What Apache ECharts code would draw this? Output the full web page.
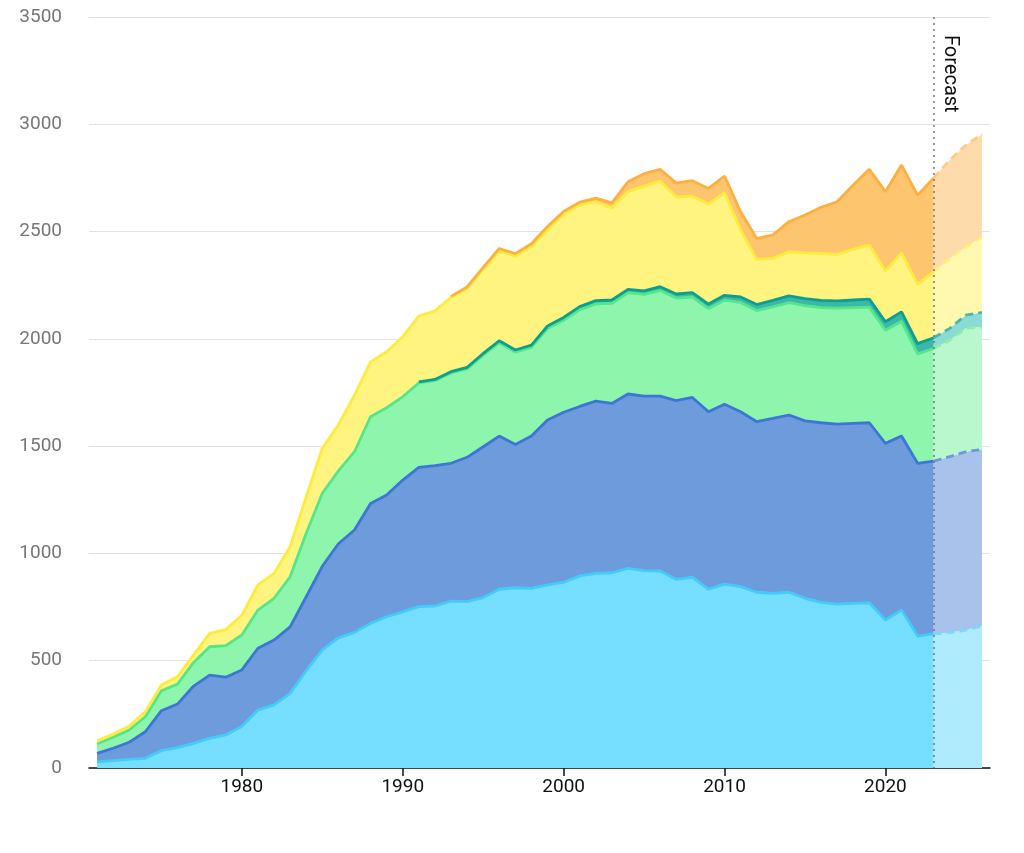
<!DOCTYPE html>
<html>
<head>
<meta charset="utf-8">
<script src="https://cdn.jsdelivr.net/npm/echarts@6/dist/echarts.min.js"></script>
<style>
  html, body { margin: 0; padding: 0; background: #fff; }
  #chart { width: 1024px; height: 853px; }
</style>
</head>
<body>
<div id="chart"></div>
<script>
// years 1971 - 2026, forecast from 2023
var years = [
  1971, 1972, 1973, 1974, 1975, 1976, 1977, 1978, 1979, 1980,
  1981, 1982, 1983, 1984, 1985, 1986, 1987, 1988, 1989, 1990,
  1991, 1992, 1993, 1994, 1995, 1996, 1997, 1998, 1999, 2000,
  2001, 2002, 2003, 2004, 2005, 2006, 2007, 2008, 2009, 2010,
  2011, 2012, 2013, 2014, 2015, 2016, 2017, 2018, 2019, 2020,
  2021, 2022, 2023, 2024, 2025, 2026
];
var forecastFrom = 2023;

var cyanVals = [
  29, 34, 40, 45, 81, 95, 115, 138, 154, 193,
  270, 294, 348, 453, 550, 606, 632, 674, 705, 728,
  752, 755, 778, 775, 794, 833, 840, 837, 853, 865,
  895, 907, 910, 930, 920, 918, 879, 889, 833, 857,
  845, 819, 814, 819, 791, 772, 764, 767, 770, 690,
  736, 615, 625, 631, 643, 662
];
var blueVals = [
  39, 58, 80, 124, 186, 203, 267, 295, 269, 264,
  288, 302, 310, 345, 390, 439, 477, 559, 567, 614,
  649, 654, 642, 673, 703, 714, 668, 710, 769, 793,
  790, 803, 789, 813, 813, 815, 833, 838, 827, 838,
  815, 795, 815, 826, 827, 837, 839, 839, 839, 823,
  811, 805, 805, 820, 831, 823
];
var greenVals = [
  44, 51, 57, 70, 93, 93, 110, 132, 147, 163,
  178, 195, 233, 296, 340, 340, 365, 404, 407, 388,
  394, 396, 421, 412, 427, 435, 430, 413, 426, 429,
  451, 453, 467, 472, 474, 492, 478, 468, 481, 485,
  510, 518, 520, 524, 537, 537, 540, 540, 539, 527,
  535, 510, 525, 543, 575, 570
];
var tealVals = [
  null, null, null, null, null, null, null, null, null, null,
  null, null, null, null, null, null, null, null, null, null,
  5, 6, 6, 7, 8, 9, 10, 11, 12, 13,
  14, 15, 15, 16, 17, 18, 19, 20, 21, 23,
  25, 28, 30, 31, 32, 33, 34, 35, 37, 40,
  44, 48, 50, 55, 62, 68
];
var yellowVals = [
  15, 15, 19, 23, 27, 35, 35, 62, 75, 92,
  117, 116, 140, 170, 210, 215, 264, 256, 261, 280,
  306, 320, 346, 368, 392, 419, 437, 459, 450, 482,
  473, 461, 429, 455, 488, 492, 453, 450, 466, 478,
  312, 210, 196, 206, 214, 219, 217, 236, 252, 236,
  275, 276, 308, 326, 318, 350
];
var orangeVals = [
  null, null, null, null, null, null, null, null, null, null,
  null, null, null, null, null, null, null, null, null, null,
  null, null, 5, 7, 9, 11, 12, 13, 14, 12,
  14, 17, 24, 46, 58, 55, 64, 72, 73, 78,
  85, 98, 109, 140, 176, 215, 245, 300, 353, 370,
  409, 416, 437, 458, 474, 481
];

var layers = [
  { name: 'cyan',   vals: cyanVals,   line: '#43CCFB', fill: '#76DFFF', fillF: '#AEEBFD', lineF: '#7CD8FA' },
  { name: 'blue',   vals: blueVals,   line: '#3C76D6', fill: '#6D9BDC', fillF: '#A8C2EC', lineF: '#6E98DC' },
  { name: 'green',  vals: greenVals,  line: '#55E68B', fill: '#8EF5AD', fillF: '#B8F8CC', lineF: '#8EEDAE' },
  { name: 'teal',   vals: tealVals,   line: '#0C9F8F', fill: '#3DB8A8', fillF: '#8ADBD3', lineF: '#4DB5A8' },
  { name: 'yellow', vals: yellowVals, line: '#FFEB3B', fill: '#FFF480', fillF: '#FFF9B0', lineF: '#FFEF7A' },
  { name: 'orange', vals: orangeVals, line: '#FDB040', fill: '#FEC56F', fillF: '#FEDBAA', lineF: '#FDCB85' }
];

var cats = years.map(function (y) { return String(y); });

// keep only the years in [from, to], the rest null
var part = function (vals, from, to) {
  return vals.map(function (v, i) {
    return (years[i] >= from && years[i] <= to) ? v : null;
  });
};

var isDecade = function (idx, val) {
  return Number(val) % 10 === 0;
};

var series = [];
layers.forEach(function (l) {
  series.push({
    name: l.name,
    type: 'line',
    stack: 'hist',
    symbol: 'none',
    lineStyle: { color: l.line, width: 2.8 },
    areaStyle: { color: l.fill, opacity: 1 },
    data: part(l.vals, years[0], forecastFrom)
  });
});
layers.forEach(function (l, idx) {
  var s = {
    name: l.name + '-f',
    type: 'line',
    stack: 'fc',
    symbol: 'none',
    lineStyle: { color: l.lineF, width: 2.8, type: [8, 5] },
    areaStyle: { color: l.fillF, opacity: 1 },
    data: part(l.vals, forecastFrom, years[years.length - 1])
  };
  if (idx === layers.length - 1) {
    s.markLine = {
      silent: true,
      symbol: 'none',
      z: 5,
      lineStyle: { type: [2, 4], color: '#777', width: 1.5 },
      label: {
        show: true,
        formatter: 'Forecast',
        position: 'insideStartTop',
        distance: [18, 6],
        color: '#111',
        fontSize: 20,
        fontFamily: 'Roboto, Arial, sans-serif'
      },
      data: [[{ coord: [String(forecastFrom), 3500] }, { coord: [String(forecastFrom), 0] }]]
    };
  }
  series.push(s);
});

var chart = echarts.init(document.getElementById('chart'));
chart.setOption({
  animation: false,
  backgroundColor: '#fff',
  grid: { left: 89, right: 34, top: 17, bottom: 85 },
  xAxis: {
    type: 'category',
    data: cats,
    boundaryGap: true,
    splitLine: { show: false },
    axisLine: { show: true, lineStyle: { color: '#111', width: 1.5 } },
    axisTick: { show: true, interval: isDecade, alignWithLabel: true, length: 8, lineStyle: { color: '#111', width: 1.5 } },
    axisLabel: {
      interval: isDecade,
      color: '#111',
      fontSize: 19,
      margin: 10,
      fontFamily: 'Roboto, Arial, sans-serif'
    }
  },
  yAxis: {
    type: 'value',
    min: 0,
    max: 3500,
    interval: 500,
    axisLine: { show: false },
    axisTick: { show: false },
    axisLabel: {
      color: '#777',
      fontSize: 19,
      margin: 27,
      formatter: function (v) { return String(v); },
      fontFamily: 'Roboto, Arial, sans-serif'
    },
    splitLine: { lineStyle: { color: '#e2e2e2', width: 1.2 } }
  },
  series: series
});
</script>
</body>
</html>
